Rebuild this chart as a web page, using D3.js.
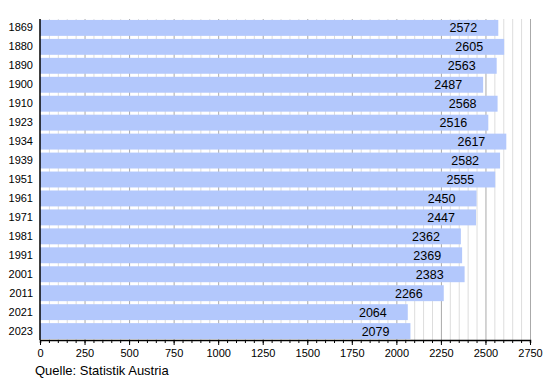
<!DOCTYPE html>
<html>
  <head>
    <title>Einwohnerentwicklung</title>
    <style>
      body { margin: 0; background: #fff; }
      text { font-family: "Liberation Sans", Arial, sans-serif; }
    </style>
  </head>
  <body>
    <script src="https://cdnjs.cloudflare.com/ajax/libs/d3/7.8.5/d3.min.js"></script>
    <script>
      let years = ['1869', '1880', '1890', '1900', '1910', '1923', '1934', '1939', '1951',
                   '1961', '1971', '1981', '1991', '2001', '2011', '2021', '2023'];
      let population = [2572, 2605, 2563, 2487, 2568, 2516, 2617, 2582, 2555,
                        2450, 2447, 2362, 2369, 2383, 2266, 2064, 2079];
      let xTicks = [0, 250, 500, 750, 1000, 1250, 1500, 1750, 2000, 2250, 2500, 2750];
      let source = 'Quelle: Statistik Austria';

      let svg = d3.select('body')
                  .append('svg')
                  .attr('width', 550)
                  .attr('height', 380);

      let plotLeft = 40, plotRight = 530, plotTop = 19, plotBottom = 340;

      let xScale = d3.scaleLinear()
                     .domain([0, 2750])
                     .range([plotLeft, plotRight]);

      let yScale = d3.scaleBand()
                     .domain(years)
                     .range([plotTop, plotBottom])
                     .paddingInner(0.16)
                     .paddingOuter(0.05);

      // minor grid every 50
      let minor = d3.range(50, 2751, 50).filter((d) => d % 250 != 0);
      svg.selectAll('line.minor')
         .data(minor)
         .enter()
           .append('line')
           .attr('x1', (d) => xScale(d) + 0.5)
           .attr('x2', (d) => xScale(d) + 0.5)
           .attr('y1', plotTop)
           .attr('y2', plotBottom)
           .attr('stroke', '#dddddd')
           .attr('stroke-width', 1);

      svg.selectAll('line.major')
         .data(xTicks.slice(1))
         .enter()
           .append('line')
           .attr('x1', (d) => xScale(d) + 0.5)
           .attr('x2', (d) => xScale(d) + 0.5)
           .attr('y1', plotTop)
           .attr('y2', plotBottom)
           .attr('stroke', '#aaaaaa')
           .attr('stroke-width', 1);

      svg.selectAll('rect.bar')
         .data(population)
         .enter()
           .append('rect')
           .attr('x', xScale(0))
           .attr('y', (d, i) => yScale(years[i]))
           .attr('width', (d) => xScale(d) - xScale(0))
           .attr('height', yScale.bandwidth())
           .attr('fill', '#b3c8fc');

      svg.selectAll('text.value')
         .data(population)
         .enter()
           .append('text')
           .attr('x', (d) => xScale(d) - 21)
           .attr('y', (d, i) => yScale(years[i]) + yScale.bandwidth() / 2 + 4.5)
           .attr('text-anchor', 'end')
           .attr('font-size', '12.5px')
           .attr('fill', '#000')
           .text((d) => d);

      // x axis with major and minor ticks
      let xAxisMinor = d3.axisBottom(xScale)
                         .tickValues(d3.range(0, 2751, 50))
                         .tickSize(3)
                         .tickFormat('');
      svg.append('g')
         .attr('transform', 'translate(0,' + plotBottom + ')')
         .call(xAxisMinor)
         .call((g) => g.select('.domain').attr('stroke', '#000').attr('stroke-width', 1.5));

      let xAxis = d3.axisBottom(xScale)
                    .tickValues(xTicks)
                    .tickSize(5)
                    .tickPadding(4)
                    .tickFormat(d3.format('d'));
      svg.append('g')
         .attr('transform', 'translate(0,' + plotBottom + ')')
         .call(xAxis)
         .call((g) => g.select('.domain').remove())
         .call((g) => g.selectAll('text')
                        .attr('font-size', '11px')
                        .attr('font-family', '"Liberation Sans", Arial, sans-serif')
                        .attr('fill', '#000'));

      let yAxis = d3.axisLeft(yScale)
                    .tickSize(0)
                    .tickPadding(7);
      svg.append('g')
         .attr('transform', 'translate(' + plotLeft + ',0)')
         .call(yAxis)
         .call((g) => g.select('.domain')
                       .attr('d', 'M0,' + plotTop + 'V' + plotBottom)
                       .attr('stroke', '#000')
                       .attr('stroke-width', 1.5))
         .call((g) => g.selectAll('text')
                       .attr('font-size', '11px')
                       .attr('font-family', '"Liberation Sans", Arial, sans-serif')
                       .attr('fill', '#000'));

      svg.append('text')
         .attr('x', 35)
         .attr('y', 375)
         .attr('font-size', '13px')
         .attr('fill', '#000')
         .text(source);
    </script>
  </body>
</html>
